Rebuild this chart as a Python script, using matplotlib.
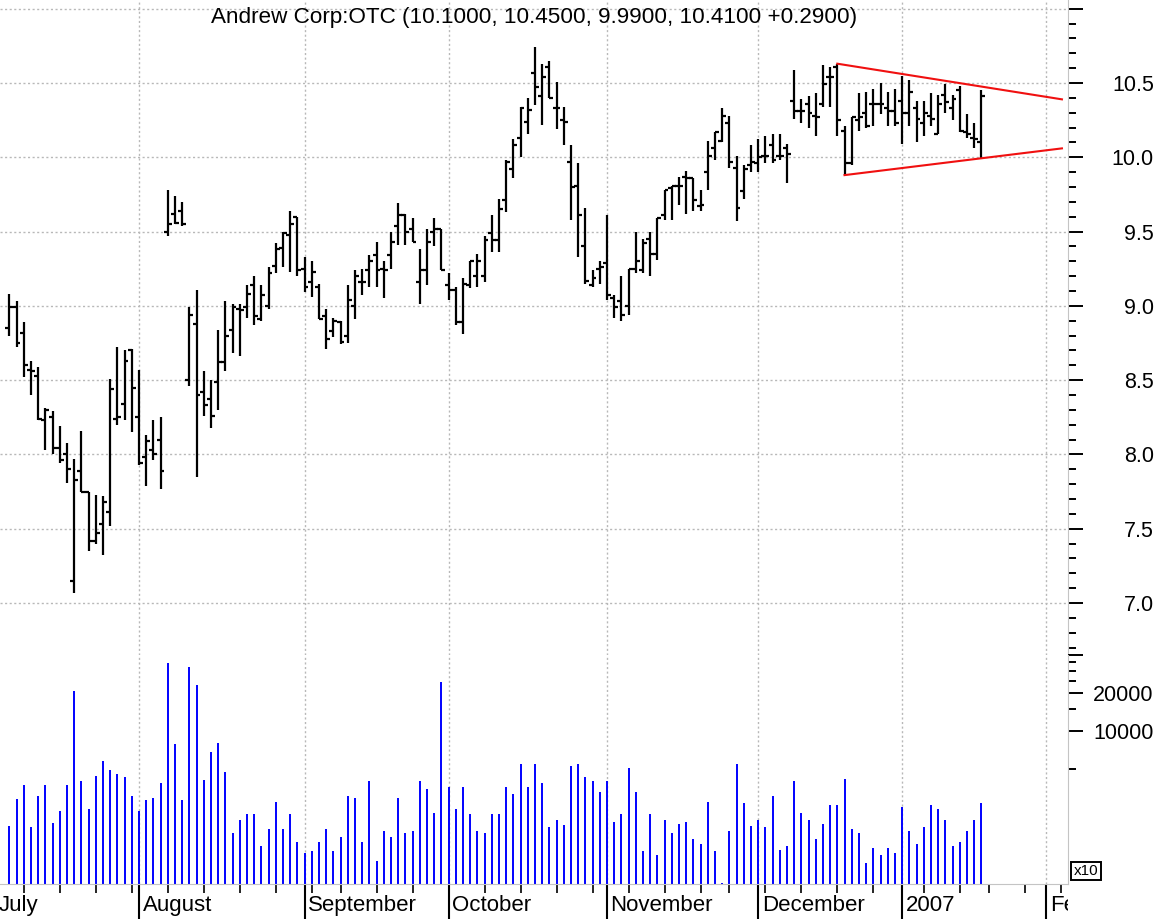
import matplotlib

matplotlib.use("Agg")
import matplotlib.pyplot as plt
import matplotlib.ticker as mticker
import matplotlib.transforms as mtransforms
import numpy as np
import pandas as pd

plt.rcParams["font.family"] = ["Liberation Sans", "DejaVu Sans"]

# ---- data ----
symbol = "Andrew Corp:OTC"
first_date = "2006-07-06"
holidays = ["2006-07-04", "2006-09-04", "2006-11-23", "2006-12-25",
            "2007-01-01", "2007-01-02", "2007-01-15", "2007-02-19"]
month_labels = ["July", "August", "September", "October", "November",
                "December", "2007", "February"]

opens = [8.85, 8.99, 8.82, 8.57, 8.53, 8.23, 8.25, 8.04, 8.00, 7.15,
         7.89, 7.75, 7.42, 7.53, 7.61, 8.24, 8.34, 8.70, 8.25, 7.98,
         8.03, 8.10, 9.50, 9.62, 9.64, 8.50, 8.88, 8.42, 8.37, 8.49,
         8.62, 8.84, 8.98, 8.99, 9.14, 8.91, 9.00, 9.27, 9.39, 9.48,
         9.60, 9.25, 9.16, 9.13, 8.93, 8.83, 8.89, 8.80, 9.00, 9.16,
         9.24, 9.34, 9.25, 9.34, 9.54, 9.61, 9.52, 9.16, 9.24, 9.50,
         9.52, 9.14, 9.11, 8.89, 9.14, 9.20, 9.20, 9.49, 9.44, 9.71,
         9.92, 10.13, 10.24, 10.57, 10.41, 10.61, 10.33, 10.25, 9.97, 9.81,
         9.40, 9.14, 9.25, 9.29, 9.05, 9.03, 9.00, 9.25, 9.24, 9.45,
         9.35, 9.61, 9.79, 9.81, 9.87, 9.86, 9.67, 9.90, 10.06, 10.11,
         10.23, 9.93, 9.77, 9.95, 9.96, 10.01, 10.08, 10.01, 10.06, 10.38,
         10.31, 10.36, 10.28, 10.36, 10.54, 10.61, 10.18, 9.96, 10.25, 10.30,
         10.36, 10.36, 10.33, 10.31, 10.38, 10.30, 10.33, 10.23, 10.28, 10.16,
         10.42, 10.33, 10.45, 10.17, 10.13, 10.10]
highs = [9.08, 9.03, 8.89, 8.63, 8.59, 8.31, 8.29, 8.19, 8.08, 7.97,
         8.16, 7.75, 7.73, 7.72, 8.51, 8.72, 8.70, 8.71, 8.57, 8.13,
         8.23, 8.25, 9.78, 9.74, 9.70, 8.99, 9.11, 8.56, 8.50, 8.84,
         9.03, 9.01, 9.01, 9.14, 9.20, 9.14, 9.26, 9.42, 9.50, 9.64,
         9.60, 9.33, 9.30, 9.15, 8.98, 8.92, 8.90, 9.14, 9.24, 9.25,
         9.34, 9.43, 9.30, 9.50, 9.69, 9.62, 9.59, 9.38, 9.52, 9.59,
         9.52, 9.22, 9.13, 9.19, 9.30, 9.35, 9.47, 9.61, 9.72, 9.98,
         10.12, 10.34, 10.40, 10.74, 10.63, 10.65, 10.51, 10.34, 10.08, 9.96,
         9.66, 9.24, 9.30, 9.61, 9.07, 9.20, 9.25, 9.50, 9.45, 9.50,
         9.59, 9.78, 9.81, 9.87, 9.91, 9.86, 9.78, 10.11, 10.17, 10.33,
         10.28, 10.01, 9.95, 10.08, 10.12, 10.14, 10.16, 10.16, 10.09, 10.59,
         10.39, 10.41, 10.43, 10.62, 10.61, 10.63, 10.21, 10.27, 10.43, 10.44,
         10.46, 10.50, 10.44, 10.46, 10.55, 10.52, 10.38, 10.38, 10.43, 10.42,
         10.49, 10.42, 10.48, 10.29, 10.23, 10.45]
lows = [8.80, 8.72, 8.52, 8.40, 8.23, 8.03, 8.00, 7.94, 7.81, 7.07,
        7.75, 7.35, 7.40, 7.32, 7.52, 8.20, 8.23, 8.15, 7.93, 7.79,
        7.96, 7.77, 9.47, 9.55, 9.54, 8.46, 7.85, 8.26, 8.18, 8.30,
        8.56, 8.68, 8.66, 8.92, 8.87, 8.90, 8.98, 9.22, 9.26, 9.23,
        9.20, 9.09, 9.06, 8.91, 8.71, 8.79, 8.74, 8.75, 8.91, 9.07,
        9.13, 9.13, 9.05, 9.25, 9.41, 9.41, 9.43, 9.01, 9.14, 9.40,
        9.24, 9.04, 8.87, 8.81, 9.12, 9.13, 9.16, 9.36, 9.36, 9.63,
        9.86, 10.00, 10.16, 10.35, 10.22, 10.40, 10.19, 10.08, 9.58, 9.33,
        9.15, 9.13, 9.15, 9.04, 8.92, 8.90, 8.94, 9.22, 9.22, 9.20,
        9.31, 9.58, 9.58, 9.68, 9.62, 9.64, 9.64, 9.78, 9.98, 10.10,
        9.93, 9.57, 9.72, 9.90, 9.90, 9.96, 9.96, 9.98, 9.83, 10.26,
        10.23, 10.20, 10.14, 10.34, 10.34, 10.14, 9.88, 9.95, 10.18, 10.20,
        10.21, 10.29, 10.21, 10.21, 10.09, 10.21, 10.10, 10.14, 10.21, 10.16,
        10.30, 10.25, 10.17, 10.13, 10.06, 9.99]
closes = [8.99, 8.75, 8.60, 8.56, 8.24, 8.30, 8.04, 7.96, 7.90, 7.83,
          7.75, 7.42, 7.47, 7.68, 8.44, 8.25, 8.63, 8.45, 7.94, 8.09,
          8.00, 7.89, 9.55, 9.56, 9.55, 8.94, 8.40, 8.33, 8.26, 8.62,
          8.80, 8.99, 8.97, 9.08, 8.93, 9.07, 9.22, 9.38, 9.49, 9.55,
          9.24, 9.13, 9.23, 8.91, 8.78, 8.90, 8.76, 9.04, 9.20, 9.16,
          9.30, 9.24, 9.24, 9.43, 9.61, 9.50, 9.43, 9.24, 9.43, 9.52,
          9.24, 9.11, 8.89, 9.15, 9.30, 9.30, 9.44, 9.44, 9.65, 9.97,
          10.08, 10.33, 10.32, 10.47, 10.54, 10.40, 10.33, 10.24, 9.80, 9.61,
          9.17, 9.19, 9.26, 9.07, 8.99, 8.94, 9.25, 9.30, 9.42, 9.35,
          9.59, 9.78, 9.81, 9.81, 9.86, 9.71, 9.68, 10.01, 10.17, 10.28,
          9.97, 9.66, 9.92, 9.97, 10.00, 10.01, 9.98, 10.01, 10.02, 10.31,
          10.31, 10.30, 10.27, 10.49, 10.54, 10.25, 9.96, 10.27, 10.27, 10.21,
          10.36, 10.36, 10.31, 10.23, 10.30, 10.44, 10.26, 10.30, 10.26, 10.36,
          10.37, 10.39, 10.18, 10.16, 10.12, 10.41]
volume = [1780, 2880, 3730, 1730, 3050, 3730, 1860, 2320, 3730, 20900,
          3990, 2410, 4420, 5780, 4880, 4560, 4300, 3050, 2320, 2850,
          2940, 3850, 34400, 7840, 2850, 32300, 23100, 4110, 6820, 8080,
          4730, 1560, 1970, 2190, 2190, 1230, 1660, 2750, 1660, 2190,
          1320, 1070, 1110, 1320, 1660, 1110, 1450, 3050, 2940, 1320,
          3990, 940, 1600, 1450, 2940, 1560, 1600, 3990, 3490, 2250,
          24600, 3600, 2410, 3600, 2190, 1600, 1560, 2190, 2190, 3620,
          3170, 5450, 3620, 5450, 3870, 1730, 1970, 1790, 5250, 5450,
          4300, 3990, 3270, 3990, 1910, 2190, 5090, 3270, 1110, 2190,
          1040, 1970, 1560, 1840, 1900, 1400, 1270, 2750, 1110, 630,
          1600, 5450, 2670, 1780, 1970, 1730, 3050, 1150, 1230, 3990,
          2250, 1970, 1400, 1840, 2580, 2580, 4140, 1660, 1560, 900,
          1190, 1040, 1190, 1070, 2500, 1600, 1270, 1730, 2580, 2410,
          1970, 1230, 1320, 1600, 1970, 2670]

# symmetrical triangle drawn on the chart (bar number, price)
upper_line_bar = [115, 146.2]
upper_line_price = [10.63, 10.39]
lower_line_bar = [116, 146.2]
lower_line_price = [9.88, 10.06]

# ---- trading calendar ----
sessions = pd.bdate_range("2006-07-03", "2007-02-28")
sessions = sessions[~sessions.isin(pd.to_datetime(holidays))]
first_bar = sessions.get_loc(pd.Timestamp(first_date))
x = np.arange(first_bar, first_bar + len(opens))

month_pos = [i for i in range(len(sessions))
             if i == 0 or sessions[i].month != sessions[i - 1].month]
weeks = sessions.to_period("W")
week_pos = [i for i in range(1, len(sessions)) if weeks[i] != weeks[i - 1]]

# ---- figure layout (pixel boxes) ----
W, H = 1166, 919
SPINE_X, SPLIT_Y, BASE_Y = 1068, 655, 884
fig = plt.figure(figsize=(W / 100, H / 100), dpi=100)


def px_box(x0, y0, x1, y1):
    return [x0 / W, 1 - y1 / H, (x1 - x0) / W, (y1 - y0) / H]


ax = fig.add_axes(px_box(0, 0, SPINE_X, SPLIT_Y))
axv = fig.add_axes(px_box(0, SPLIT_Y, SPINE_X, BASE_Y), sharex=ax)

grid_kw = dict(color="#b8b8b8", linestyle=(0, (1.5, 1.8)), linewidth=1.0)
spine_color = "#c4c4c4"

# ---- price bars ----
bar_lw = 1.6
tick_w = 0.55
ax.vlines(x, lows, highs, color="black", lw=bar_lw)
ax.hlines(opens, x - tick_w, x, color="black", lw=bar_lw)
ax.hlines(closes, x, x + tick_w, color="black", lw=bar_lw)

ax.plot(first_bar + np.array(upper_line_bar), upper_line_price, color="#f01010", lw=1.5)
ax.plot(first_bar + np.array(lower_line_bar), lower_line_price, color="#f01010", lw=1.5)

# 7.2 px per session, first bar at 9.3 px from the left edge
px_per_bar = 7.2
ax.set_xlim(first_bar - 9.3 / px_per_bar, first_bar + (SPINE_X - 9.3) / px_per_bar)
ax.set_ylim(7.0 - (SPLIT_Y - 603) / 148.57, 7.0 + 603 / 148.57)

price_major = np.arange(7.0, 11.01, 0.5)
price_minor = np.arange(6.7, 11.05, 0.1)
ax.yaxis.tick_right()
ax.yaxis.set_major_locator(mticker.FixedLocator(price_major))
ax.yaxis.set_minor_locator(mticker.FixedLocator(price_minor))
ax.set_yticklabels([f"{v:.1f}" if v < 10.9 else "" for v in price_major])

for a in (ax, axv):
    a.xaxis.set_major_locator(mticker.FixedLocator(month_pos))
    a.xaxis.set_minor_locator(mticker.FixedLocator(week_pos))
    a.spines[["left", "top"]].set_visible(False)
    a.spines["right"].set_color(spine_color)
    a.tick_params(axis="y", which="major", direction="out", length=10.8, width=1.4,
                  colors="black", labelsize=15.5, pad=51)
    a.tick_params(axis="y", which="minor", direction="out", length=5.8, width=1.4,
                  colors="black")
    a.grid(True, which="major", axis="x", **grid_kw)

ax.spines["bottom"].set_visible(False)
ax.tick_params(axis="x", which="both", bottom=False, labelbottom=False)
ax.grid(True, which="major", axis="y", **grid_kw)

# ---- volume ----
axv.vlines(x, 100, volume, color="#0000ff", lw=1.4)
axv.set_yscale("log")
axv.set_ylim(10000 * 10 ** ((731 - BASE_Y) / 126.2), 10000 * 10 ** ((731 - SPLIT_Y) / 126.2))
axv.yaxis.tick_right()
axv.yaxis.set_major_locator(mticker.FixedLocator([10000, 20000, 40000]))
axv.yaxis.set_minor_locator(mticker.FixedLocator([5000, 15000, 25000, 30000, 35000]))
axv.yaxis.set_major_formatter(mticker.FixedFormatter(["10000", "20000", ""]))
axv.yaxis.set_minor_formatter(mticker.NullFormatter())
axv.spines["bottom"].set_color(spine_color)
axv.tick_params(axis="x", which="major", direction="out", length=30, width=1.5,
                colors="black", labelbottom=False)
axv.tick_params(axis="x", which="minor", direction="out", length=6.5, width=1.2,
                colors="black")

for a in (ax, axv):
    for lab in a.get_yticklabels():
        lab.set_horizontalalignment("right")

# month names sit just right of each separator, clipped at the right spine
clip = mtransforms.TransformedBbox(mtransforms.Bbox([[0, 0], [SPINE_X / W, 1]]), fig.transFigure)
for pos, name in zip(month_pos, month_labels):
    t = axv.annotate(name, xy=(pos, 0), xycoords=("data", "axes fraction"),
                     xytext=(2.6, -15.8), textcoords="offset points",
                     ha="left", va="center", fontsize=16, annotation_clip=False)
    t.set_clip_box(clip)
    t.set_clip_on(True)

axv.text(1086 / W, 1 - 871 / H, "x10", transform=fig.transFigure, ha="center",
         va="center", fontsize=11,
         bbox=dict(boxstyle="square,pad=0.15", fc="white", ec="black", lw=1.4))

# ---- title from the last bar ----
change = closes[-1] - closes[-2]
title = (f"{symbol} ({opens[-1]:.4f}, {highs[-1]:.4f}, {lows[-1]:.4f}, "
         f"{closes[-1]:.4f} {change:+.4f})")
ax.text(0.5, 1 - 18 / SPLIT_Y, title, transform=ax.transAxes, ha="center",
        va="center", fontsize=16.2)

fig.savefig("out.png", dpi=100)
plt.close(fig)
